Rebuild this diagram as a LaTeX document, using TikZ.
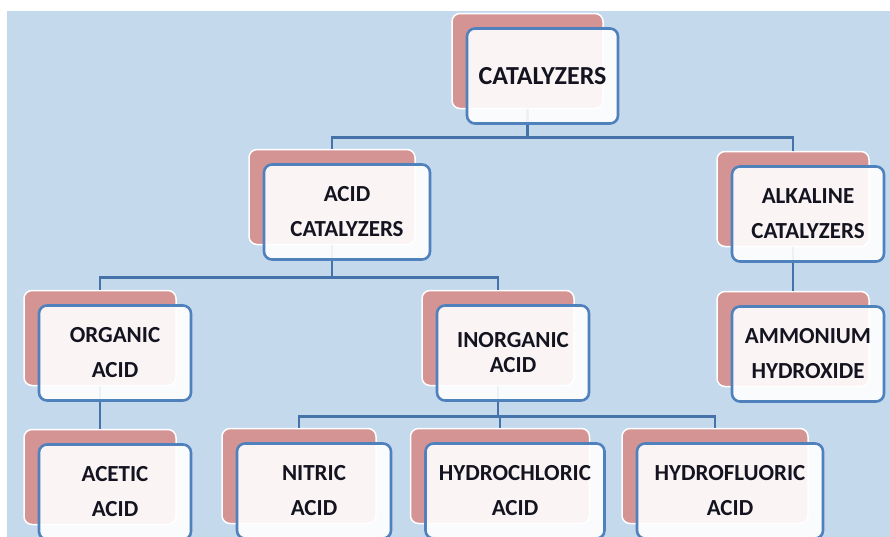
\documentclass[tikz,border=0pt]{standalone}
\usepackage{fontspec}
\setmainfont{Carlito}
\usepackage{tikz}
\usetikzlibrary{positioning, calc}
\usepackage{xcolor}
\definecolor{bgblue}{HTML}{C5D9ED}
\definecolor{backred}{HTML}{D49494}
\definecolor{frameblue}{HTML}{4F81BD}
\definecolor{wireblue}{HTML}{4672AA}
\definecolor{inkdark}{HTML}{141420}

\begin{document}
\begin{tikzpicture}[x=1pt, y=-1pt,
  back/.style={draw=white, line width=1.5pt, fill=backred, rounded corners=8pt, minimum height=95pt, inner sep=0pt},
  front/.style={draw=frameblue, line width=2.6pt, fill=white, fill opacity=0.9, text opacity=1, rounded corners=8pt,
    minimum height=95pt, inner sep=0pt, align=center, text=inkdark, font=\fontsize{23}{35}\selectfont\bfseries},
  wire/.style={draw=wireblue, line width=2.6pt}]
\useasboundingbox (0,0) rectangle (890,536);
\fill[bgblue] (7,11) rectangle (890,540);

% Back boxes
\node[back, minimum width=151pt] (cat-b) at (527.5,61) {};
\node[back, minimum width=166pt] (acidcat-b) at (332,197) {};
\node[back, minimum width=152pt] (alkcat-b) at (793,199) {};
\node[back, minimum width=152pt] (orgacid-b) at (100,338) {};
\node[back, minimum width=152pt] (inorg-b) at (498,338) {};
\node[back, minimum width=152pt] (ammon-b) at (793,339) {};
\node[back, minimum width=152pt] (acetic-b) at (100,477) {};
\node[back, minimum width=154pt] (nitric-b) at (299,476) {};
\node[back, minimum width=179pt] (hcl-b) at (500,476) {};
\node[back, minimum width=186pt] (hf-b) at (715,476) {};

% Connectors
\draw[wire] (cat-b.south) -- ++(0,28) -| (acidcat-b.north);
\draw[wire] (cat-b.south) -- ++(0,28) -| (alkcat-b.north);
\draw[wire] (acidcat-b.south) -- ++(0,32) -| (orgacid-b.north);
\draw[wire] (acidcat-b.south) -- ++(0,32) -| (inorg-b.north);
\draw[wire] (alkcat-b.south) -- (ammon-b.north);
\draw[wire] (orgacid-b.south) -- (acetic-b.north);
\draw[wire] (inorg-b.south) -- ++(0,30) -| (nitric-b.north);
\draw[wire] (inorg-b.south) -- ++(0,30) -| (hcl-b.north);
\draw[wire] (inorg-b.south) -- ++(0,30) -| (hf-b.north);

% Front boxes
\node[front, minimum width=151pt, xshift=15pt, yshift=-15pt, font=\fontsize{26}{30}\selectfont\bfseries] (cat) at (cat-b) {CATALYZERS};
\node[front, minimum width=166pt, xshift=15pt, yshift=-15pt] (acidcat) at (acidcat-b) {ACID\\CATALYZERS};
\node[front, minimum width=152pt, xshift=15pt, yshift=-15pt] (alkcat) at (alkcat-b) {ALKALINE\\CATALYZERS};
\node[front, minimum width=152pt, xshift=15pt, yshift=-15pt] (orgacid) at (orgacid-b) {ORGANIC\\ACID};
\node[front, minimum width=152pt, xshift=15pt, yshift=-15pt, font=\fontsize{23}{25}\selectfont\bfseries] (inorg) at (inorg-b) {INORGANIC\\ACID};
\node[front, minimum width=152pt, xshift=15pt, yshift=-15pt] (ammon) at (ammon-b) {AMMONIUM\\HYDROXIDE};
\node[front, minimum width=152pt, xshift=15pt, yshift=-15pt] (acetic) at (acetic-b) {ACETIC\\ACID};
\node[front, minimum width=154pt, xshift=15pt, yshift=-15pt] (nitric) at (nitric-b) {NITRIC\\ACID};
\node[front, minimum width=179pt, xshift=15pt, yshift=-15pt] (hcl) at (hcl-b) {HYDROCHLORIC\\ACID};
\node[front, minimum width=186pt, xshift=15pt, yshift=-15pt] (hf) at (hf-b) {HYDROFLUORIC\\ACID};
\end{tikzpicture}
\end{document}
